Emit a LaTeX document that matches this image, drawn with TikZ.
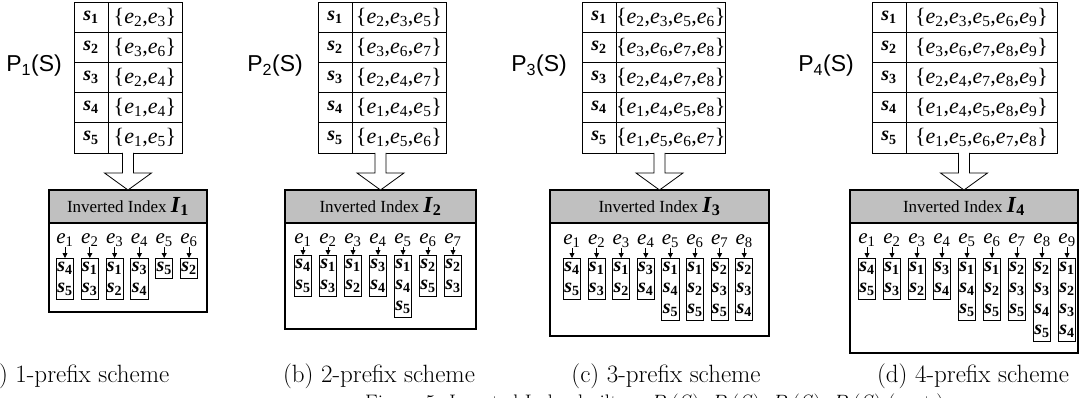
\documentclass[tikz,border=0pt]{standalone}
\usepackage{fontspec}
\newfontfamily\tnr{Liberation Serif}
\newfontfamily\arl{Liberation Sans}
\usetikzlibrary{arrows.meta,calc,positioning}
\definecolor{hdgray}{RGB}{192,192,192}
\newcommand\sid[1]{\textbf{\textit{s}\textsubscript{#1}}}
\newcommand\ee[1]{\textit{e}\textsubscript{#1}}
\newcommand\iid[1]{{\fontsize{23}{23}\selectfont\textbf{\textit{I}\textsubscript{#1}}}}
\tikzset{
  scell/.style={draw, anchor=north west, inner sep=0pt, outer sep=0pt, line width=0.8pt,
    minimum height=30.2pt, minimum width=34pt, font=\tnr\fontsize{20}{22}\selectfont},
  setcell/.style={scell, minimum width=#1, font=\tnr\fontsize{22}{24}\selectfont},
  plabel/.style={anchor=east, inner sep=0pt, font=\arl\fontsize{23}{25}\selectfont},
  hdr/.style={draw, fill=hdgray, anchor=north, inner sep=0pt, outer sep=0pt, line width=1.2pt,
    minimum height=33pt, minimum width=#1, font=\tnr\fontsize{17}{19}\selectfont},
  body/.style 2 args={draw, anchor=north, inner sep=0pt, outer sep=0pt, line width=1.2pt,
    minimum width=#1, minimum height=#2},
  elbl/.style={inner sep=0.5pt, font=\tnr\fontsize{21}{22}\selectfont},
  post/.style={draw, anchor=north, align=center, inner xsep=1pt, inner ysep=3.5pt,
    line width=0.8pt, font=\tnr\fontsize{20}{21}\selectfont},
  ptr/.style={-{Triangle[length=5pt,width=5pt]}, line width=0.8pt},
  blockarrow/.style={draw, fill=white, line width=0.8pt, to path={
    ($(\tikztostart)+(-5.5,0)$) -- ($(\tikztotarget)+(-5.5,-17)$) -- ($(\tikztotarget)+(-23.5,-17)$)
    -- (\tikztotarget) -- ($(\tikztotarget)+(23.5,-17)$) -- ($(\tikztotarget)+(5.5,-17)$)
    -- ($(\tikztostart)+(5.5,0)$)}},
  subcap/.style={anchor=base, inner sep=0pt, font=\fontsize{25}{30}\selectfont}
}
\begin{document}
\begin{tikzpicture}[x=1pt, y=-1pt]
  \useasboundingbox (0,0) rectangle (1081,398);
  % (a) 1-prefix
  \node[plabel] (a-lbl) at (62,66) {P\textsubscript{1}(S)};
  \foreach \i/\st in {1/{\ee2,\ee3},2/{\ee3,\ee6},3/{\ee2,\ee4},4/{\ee1,\ee4},5/{\ee1,\ee5}}{
    \node[scell] (a-s\i) at (74,{2+30.2*(\i-1)}) {\sid{\i}};
    \node[setcell=74pt] (a-t\i) at (a-s\i.north east) {\{\st\}};
  }
  \node[hdr=158pt] (a-hd) at (128,190) {Inverted Index \iid{1}};
  \node[body={158pt}{89pt}] (a-bx) at (a-hd.south) {};
  \draw[blockarrow] (a-hd.north |- a-t5.south) to (a-hd.north);
  \foreach \k/\ps in {1/{\sid4\\\sid5},2/{\sid1\\\sid3},3/{\sid1\\\sid2},4/{\sid3\\\sid4},5/{\sid5},6/{\sid2}}{
    \node[elbl] (a-e\k) at ({65+24.8*(\k-1)},240) {\ee{\k}};
    \node[post] (a-p\k) at ({65+24.8*(\k-1)},258) {\ps};
    \draw[ptr] (a-e\k) -- (a-p\k);
  }
  \node[subcap] (a-cap) at (74,382) {(a) 1-prefix scheme};
  % (b) 2-prefix
  \node[plabel] (b-lbl) at (303,66) {P\textsubscript{2}(S)};
  \foreach \i/\st in {1/{\ee2,\ee3,\ee5},2/{\ee3,\ee6,\ee7},3/{\ee2,\ee4,\ee7},4/{\ee1,\ee4,\ee5},5/{\ee1,\ee5,\ee6}}{
    \node[scell] (b-s\i) at (318,{2+30.2*(\i-1)}) {\sid{\i}};
    \node[setcell=94pt] (b-t\i) at (b-s\i.north east) {\{\st\}};
  }
  \node[hdr=191pt] (b-hd) at (380.5,190) {Inverted Index \iid{2}};
  \node[body={191pt}{106pt}] (b-bx) at (b-hd.south) {};
  \draw[blockarrow] (b-hd.north |- b-t5.south) to (b-hd.north);
  \foreach \k/\ps in {1/{\sid4\\\sid5},2/{\sid1\\\sid3},3/{\sid1\\\sid2},4/{\sid3\\\sid4},
      5/{\sid1\\\sid4\\\sid5},6/{\sid2\\\sid5},7/{\sid2\\\sid3}}{
    \node[elbl] (b-e\k) at ({303+25*(\k-1)},240) {\ee{\k}};
    \node[post] (b-p\k) at ({303+25*(\k-1)},255) {\ps};
    \draw[ptr] (b-e\k) -- (b-p\k);
  }
  \node[subcap] (b-cap) at (379,382) {(b) 2-prefix scheme};
  % (c) 3-prefix
  \node[plabel] (c-lbl) at (567,66) {P\textsubscript{3}(S)};
  \foreach \i/\st in {1/{\ee2,\ee3,\ee5,\ee6},2/{\ee3,\ee6,\ee7,\ee8},3/{\ee2,\ee4,\ee7,\ee8},
      4/{\ee1,\ee4,\ee5,\ee8},5/{\ee1,\ee5,\ee6,\ee7}}{
    \node[scell] (c-s\i) at (582,{2+30.2*(\i-1)}) {\sid{\i}};
    \node[setcell=109pt] (c-t\i) at (c-s\i.north east) {\{\st\}};
  }
  \node[hdr=219pt] (c-hd) at (659.5,190) {Inverted Index \iid{3}};
  \node[body={219pt}{113pt}] (c-bx) at (c-hd.south) {};
  \draw[blockarrow] (c-hd.north |- c-t5.south) to (c-hd.north);
  \foreach \k/\ps in {1/{\sid4\\\sid5},2/{\sid1\\\sid3},3/{\sid1\\\sid2},4/{\sid3\\\sid4},
      5/{\sid1\\\sid4\\\sid5},6/{\sid1\\\sid2\\\sid5},7/{\sid2\\\sid3\\\sid5},8/{\sid2\\\sid3\\\sid4}}{
    \node[elbl] (c-e\k) at ({572+24.6*(\k-1)},241) {\ee{\k}};
    \node[post] (c-p\k) at ({572+24.6*(\k-1)},258) {\ps};
    \draw[ptr] (c-e\k) -- (c-p\k);
  }
  \node[subcap] (c-cap) at (666,382) {(c) 3-prefix scheme};
  % (d) 4-prefix
  \node[plabel] (d-lbl) at (854,66) {P\textsubscript{4}(S)};
  \foreach \i/\st in {1/{\ee2,\ee3,\ee5,\ee6,\ee9},2/{\ee3,\ee6,\ee7,\ee8,\ee9},3/{\ee2,\ee4,\ee7,\ee8,\ee9},
      4/{\ee1,\ee4,\ee5,\ee8,\ee9},5/{\ee1,\ee5,\ee6,\ee7,\ee8}}{
    \node[scell] (d-s\i) at (872,{2+30.2*(\i-1)}) {\sid{\i}};
    \node[setcell=151pt] (d-t\i) at (d-s\i.north east) {\{\st\}};
  }
  \node[hdr=228pt] (d-hd) at (964,190) {Inverted Index \iid{4}};
  \node[body={228pt}{130pt}] (d-bx) at (d-hd.south) {};
  \draw[blockarrow] (d-hd.north |- d-t5.south) to (d-hd.north);
  \foreach \k/\ps in {1/{\sid4\\\sid5},2/{\sid1\\\sid3},3/{\sid1\\\sid2},4/{\sid3\\\sid4},
      5/{\sid1\\\sid4\\\sid5},6/{\sid1\\\sid2\\\sid5},7/{\sid2\\\sid3\\\sid5},
      8/{\sid2\\\sid3\\\sid4\\\sid5},9/{\sid1\\\sid2\\\sid3\\\sid4}}{
    \node[elbl] (d-e\k) at ({867+25*(\k-1)},240) {\ee{\k}};
    \node[post] (d-p\k) at ({867+25*(\k-1)},258) {\ps};
    \draw[ptr] (d-e\k) -- (d-p\k);
  }
  \node[subcap] (d-cap) at (973,382) {(d) 4-prefix scheme};
  % figure caption, cut off by the page
  \node[subcap, anchor=base west, font=\fontsize{21}{25}\selectfont] (fig-cap) at (365,409)
    {Figure 5: Inverted Index built on $P_1(S)$, $P_2(S)$, $P_3(S)$, $P_4(S)$ (cont.)};
\end{tikzpicture}
\end{document}
